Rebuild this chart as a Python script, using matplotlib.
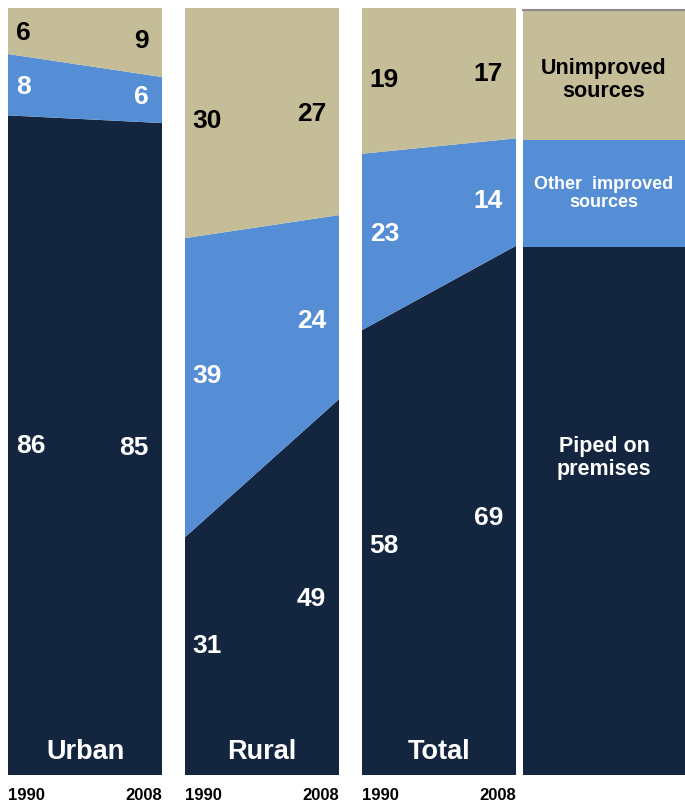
import matplotlib
matplotlib.use("Agg")
import matplotlib.pyplot as plt
import numpy as np

plt.rcParams['font.family'] = ['Liberation Sans', 'DejaVu Sans']

# Share of population by main drinking-water source, 1990 vs 2008 (%)
years = ["1990", "2008"]
panels = ["Urban", "Rural", "Total"]
piped = [[86, 85], [31, 49], [58, 69]]
other_improved = [[8, 6], [39, 24], [23, 14]]
unimproved = [[6, 9], [30, 27], [19, 17]]
key_values = [69, 14, 17]  # piped, other improved, unimproved for the key column
key_labels = ["Piped on\npremises", "Other  improved\nsources", "Unimproved\nsources"]

colors = ["#13253F", "#558ED5", "#C4BD97"]
text_colors = ["white", "white", "black"]

W, H = 685, 801
fig = plt.figure(figsize=(W / 100, H / 100), dpi=100)

def px_axes(x0, x1, y_top, y_bot):
    return fig.add_axes([x0 / W, (H - y_bot) / H, (x1 - x0) / W, (y_bot - y_top) / H])

panel_x = [(8, 162), (185, 339), (362, 516)]
x = np.array([0.0, 1.0])
for i, name in enumerate(panels):
    ax = px_axes(panel_x[i][0], panel_x[i][1], 8, 775)
    series = [piped[i], other_improved[i], unimproved[i]]
    ax.stackplot(x, *[np.array(s) for s in series], colors=colors, linewidth=0)
    ax.set_xlim(0, 1)
    ax.set_ylim(0, 100)
    ax.axis("off")

    # value labels at the middle of each band, near each edge
    for xc, xt, ha, k in [(0.15, 0.05, "left", 0), (0.83, 0.915, "right", 1)]:
        bottom = 0.0
        for s, tc in zip(series, text_colors):
            v = s[0] + (s[1] - s[0]) * xc
            ax.text(xt, bottom + v / 2, str(s[k]), ha=ha, va="center",
                    fontsize=19, fontweight="bold", color=tc)
            bottom += v

    ax.text(0.5, 3.0, name, ha="center", va="center", fontsize=19.5,
            fontweight="bold", color="white")
    fig.text(panel_x[i][0] / W, 1 - 795 / H, years[0], ha="left", va="center",
             fontsize=12, fontweight="bold", color="black")
    fig.text(panel_x[i][1] / W, 1 - 795 / H, years[1], ha="right", va="center",
             fontsize=12, fontweight="bold", color="black")

# key column
kax = px_axes(523, 685, 10, 775)
kax.set_xlim(0, 1)
kax.set_ylim(0, 100)
kax.axis("off")
bottom = 0
key_sizes = [15.5, 13, 15.5]
key_pos = [0.6, 0.5, 0.46]
for v, c, lab, tc, fs, p in zip(key_values, colors, key_labels, text_colors, key_sizes, key_pos):
    kax.bar(0.5, v, width=1.0, bottom=bottom, color=c, linewidth=0)
    kax.text(0.5, bottom + v * p, lab, ha="center", va="center", fontsize=fs,
             fontweight="bold", color=tc, linespacing=1.1)
    bottom += v
kax.plot([0, 1], [100, 100], color="#8C8C8C", linewidth=1.5, clip_on=False)

fig.savefig("out.png", dpi=100, facecolor="white")
